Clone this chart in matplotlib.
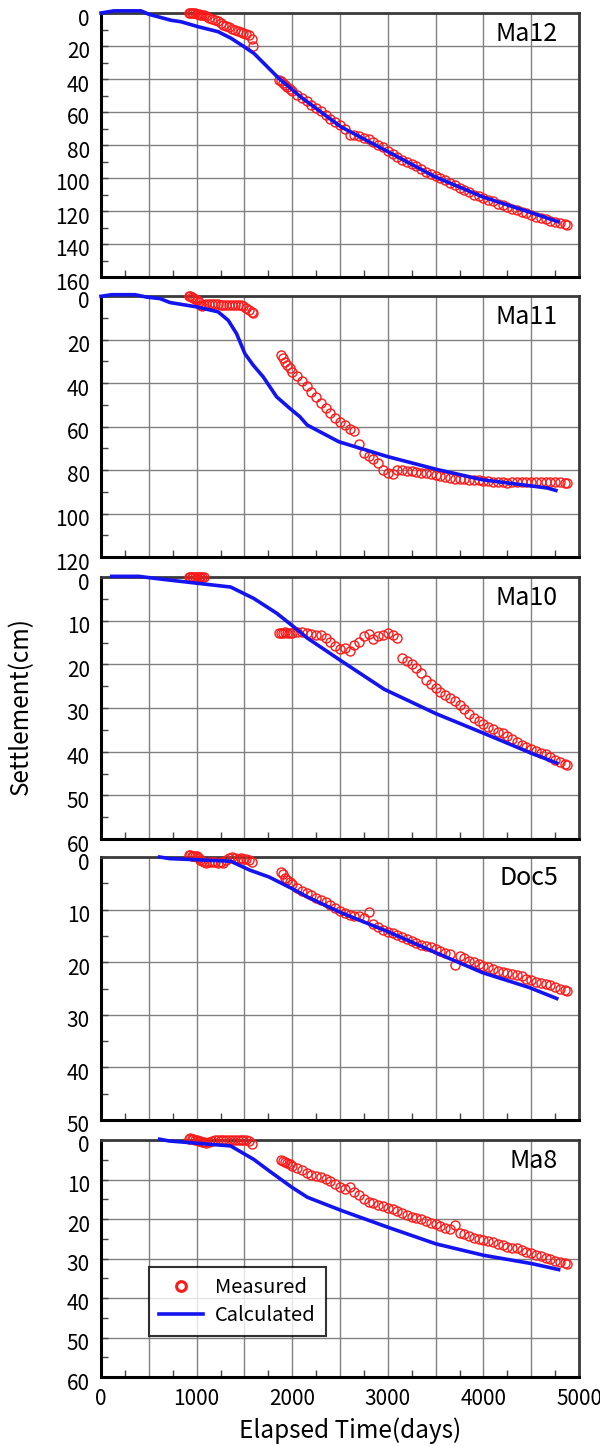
import matplotlib.pyplot as plt
import numpy as np
from matplotlib.ticker import MultipleLocator
from matplotlib.transforms import ScaledTranslation

plt.rcParams['font.family'] = ['Noto Sans CJK JP', 'DejaVu Sans']

nan = np.nan

# measurement dates (days)
days_early = [920, 935, 950, 965, 980, 1000, 1020, 1040, 1060, 1080, 1100, 1130, 1160, 1190,
              1220, 1250, 1280, 1310, 1340, 1370, 1400, 1430, 1460, 1490, 1520, 1550, 1575, 1590]
days_late = [1860, 1880, 1900, 1925, 1950, 1975, 2000, 2050, 2100, 2150, 2200, 2250, 2300, 2350,
             2400, 2450, 2500, 2550, 2600, 2650, 2700, 2750, 2800, 2850, 2900, 2950, 3000, 3050,
             3100, 3150, 3200, 3250, 3300, 3350, 3400, 3450, 3500, 3550, 3600, 3650, 3700, 3750,
             3800, 3850, 3900, 3950, 4000, 4050, 4100, 4150, 4200, 4250, 4300, 4350, 4400, 4450,
             4500, 4550, 4600, 4650, 4700, 4750, 4800, 4850, 4870]

# Ma12
ma12_early = [0, -0.3, 0, 0.3, 0, 0.5, 0.8, 1, 1.2, 1.5, 2, 2.8, 3.6, 4.2, 5, 5.8, 7, 7.6, 8.5,
              9.5, 10.3, 11, 11.5, 12.2, 12.5, 13.5, 16, 20]
ma12_late = [40.5, 41.5, 42.5, 43.5, 45, 46, 47, 49.5, 51.5, 53.5, 56, 57.5, 59.5, 62, 64, 66, 68,
             70, 74, 74, 74.5, 75.5, 76.5, 78, 80, 81.5, 83.5, 85.5, 87.5, 89, 90.5, 91.5, 93,
             94.5, 96.5, 97.5, 99, 100, 101.5, 103, 104.5, 106, 107.5, 108.5, 110, 111, 112,
             113.5, 114, 115.5, 116.5, 117.5, 118.5, 119.5, 120.5, 121.5, 122.5, 123.5, 124, 125,
             126, 126.5, 127.5, 128, 128.5]
ma12_calc_days = [0, 136, 418, 502, 732, 837, 1015, 1224, 1360, 1496, 1600, 1850, 2092, 2510,
                  3000, 3485, 3995, 4500, 4780]
ma12_calc = [0, -1.3, -1.3, 0.8, 4.4, 5.3, 8.3, 11.3, 15.3, 20.4, 24.5, 39, 51, 69, 84, 99,
             111.5, 121, 126.5]

# Ma11
ma11_early = [0, 0.2, 0.5, 0.8, 1.3, 2, 2.8, 4, 4.7, 4, 3.6, 3.5, 3.6, 3.8, 3.8, 4, 4.2, 4.3,
              4.3, 4.3, 4.3, 4.3, 4.3, 4.5, 5.5, 6.5, 7.5, 7.8]
ma11_late = [nan, 27, 28.5, 30.3, 31.8, 33.3, 35, 37, 39, 41.5, 44, 46.5, 49, 51.5, 54, 56, 58,
             59.5, 61, 62, 68, 72, 73.5, 75, 77, 80, 81.5, 82, 79.8, 80, 80.3, 80.5, 81, 81.3,
             81.5, 82, 82.3, 82.7, 83, 83.5, 84, 84.2, 84.3, 84.5, 84.5, 84.8, 85, 85.2, 85.3,
             85.5, 85.7, 85.8, 85.6, 85.5, 85.3, 85.4, 85.5, 85.6, 85.6, 85.6, 85.6, 85.6, 85.6,
             85.8, 86]
ma11_calc_days = [0, 111, 355, 477, 617, 721, 1000, 1226, 1331, 1418, 1505, 1592, 1697, 1836,
                  1976, 2080, 2156, 2487, 2994, 3500, 3990, 4496, 4671, 4758]
ma11_calc = [0.15, -0.6, -0.6, 0.5, 1.2, 3, 5, 7.3, 11.2, 17.3, 26.5, 31.8, 37.2, 46.3, 51.7,
             55.5, 59.3, 67, 73.8, 79.6, 84.5, 87.3, 88.3, 89.4]

# Ma10
ma10_early = [0, 0, 0, 0, 0, 0, 0, 0, 0, 0, nan, nan, nan, nan, nan, nan, nan, nan, nan, nan,
              nan, nan, nan, nan, nan, nan, nan, nan]
ma10_late = [12.8, 12.8, 12.8, 12.7, 12.8, 12.9, 12.8, 12.6, 12.5, 12.8, 13, 13.2, 13.3, 14,
             14.8, 15.8, 16.5, 16.3, 17, 15.5, 14.8, 13.4, 13, 14.2, 13.6, 13.2, 12.8, 13.2, 14,
             18.5, 19.2, 20, 20.8, 22, 23.5, 24.5, 25.5, 26.3, 27, 27.6, 28.5, 29.3, 30.2, 31.3,
             32.4, 33, 33.6, 34.3, 34.9, 35.4, 35.8, 36.3, 37, 37.8, 38.5, 39, 39.4, 39.9, 40.3,
             40.6, 41.3, 41.8, 42.3, 42.8, 43.1]
ma10_calc_days = [112, 393, 634, 955, 1356, 1597, 1838, 2010, 2159, 2512, 2962, 3504, 4005,
                  4507, 4767]
ma10_calc = [-0.15, -0.15, 0.5, 1.3, 2.3, 4.9, 8.3, 11.3, 14, 19.2, 25.7, 31.3, 35.8, 40.4, 42.6]

# Doc5
doc5_early = [-0.3, -0.3, -0.2, -0.2, -0.2, -0.1, 0.2, 0.5, 0.7, 0.9, 1.1, 1.0, 0.9, 1.0, 1.1,
              1.0, 1.1, 0.6, 0.2, 0.0, 0.1, 0.3, 0.2, 0.4, 0.3, 0.6, 1.0, nan]
doc5_late = [nan, 2.8, 3.3, 4.0, 4.4, 4.8, 5.1, 5.9, 6.5, 6.9, 7.3, 7.8, 8.1, 8.6, 9.1, 9.7,
             10.2, 10.7, 11.0, 11.3, 11.2, 11.6, 10.4, 12.8, 13.4, 13.8, 14.2, 14.4, 14.8, 15.2,
             15.5, 15.9, 16.3, 16.7, 17.0, 17.2, 17.5, 17.8, 18.2, 18.4, 20.6, 18.9, 19.2, 19.7,
             20.0, 20.3, 20.7, 20.9, 21.2, 21.6, 21.9, 22.1, 22.2, 22.5, 22.7, 23.1, 23.4, 23.8,
             24.0, 24.2, 24.4, 24.7, 25.0, 25.3, 25.4]
doc5_calc_days = [614, 714, 1356, 1557, 1758, 1998, 2159, 2500, 3002, 3504, 3993, 4478, 4767]
doc5_calc = [0, 0.3, 0.8, 2.5, 3.8, 6, 7.6, 10.5, 14.2, 18.2, 22, 24.8, 26.9]

# Ma8
ma8_early = [-0.3, -0.4, -0.3, -0.2, -0.1, 0, 0.2, 0.3, 0.5, 0.6, 0.7, 0.6, 0.3, 0.1, 0.0, 0.1,
             0.0, 0.0, 0.1, 0.0, 0.0, 0.1, 0.0, 0.0, 0.1, 0.2, 0.9, nan]
ma8_late = [nan, 5.1, 5.3, 5.6, 5.9, 6.2, 6.5, 7.1, 7.6, 8.4, 8.8, 9.2, 9.4, 9.8, 10.5, 11.2,
            11.8, 12.3, 11.9, 13.2, 14.0, 15.0, 15.6, 15.9, 16.4, 16.8, 17.1, 17.5, 18.1, 18.6,
            19.1, 19.5, 19.8, 20.1, 20.5, 20.9, 21.3, 21.7, 22.2, 22.5, 21.4, 23.6, 23.9, 24.4,
            24.8, 25.1, 25.4, 25.5, 25.8, 26.3, 26.7, 27.1, 27.3, 27.4, 27.8, 28.3, 28.7, 29.1,
            29.4, 29.8, 30.2, 30.6, 30.9, 31.2, 31.5]
ma8_calc_days = [614, 714, 1356, 1597, 1758, 1998, 2159, 2520, 3002, 3504, 4005, 4507, 4787]
ma8_calc = [-0.2, 0.25, 1.5, 4.9, 7.8, 12, 14.5, 17.9, 22.1, 26.3, 29.2, 31.3, 32.8]

panels = [
    ('Ma12', 160, 20, ma12_early, ma12_late, ma12_calc_days, ma12_calc),
    ('Ma11', 120, 20, ma11_early, ma11_late, ma11_calc_days, ma11_calc),
    ('Ma10', 60, 10, ma10_early, ma10_late, ma10_calc_days, ma10_calc),
    ('Doc5', 50, 10, doc5_early, doc5_late, doc5_calc_days, doc5_calc),
    ('Ma8', 60, 10, ma8_early, ma8_late, ma8_calc_days, ma8_calc),
]

# panel frames in pixels (top, bottom)
frames = [(13, 277), (296, 557), (577, 839), (857, 1120), (1140, 1377)]
W, H = 600, 1446
x0, x1 = 101, 579

fig = plt.figure(figsize=(W / 100, H / 100), dpi=100)
fig.set_facecolor('white')

for i, ((name, ymax, ystep, early, late, cdays, cvals), (top, bot)) in enumerate(zip(panels, frames)):
    ax = fig.add_axes([x0 / W, 1 - bot / H, (x1 - x0) / W, (bot - top) / H])
    ax.set_xlim(0, 5000)
    ax.set_ylim(ymax, 0)

    ax.xaxis.set_major_locator(MultipleLocator(500))
    ax.xaxis.set_minor_locator(MultipleLocator(250))
    ax.yaxis.set_major_locator(MultipleLocator(ystep))
    ax.yaxis.set_minor_locator(MultipleLocator(ystep / 2))
    ax.grid(True, which='major', color='#808080', linewidth=1.0)
    ax.set_axisbelow(True)

    ax.tick_params(which='both', direction='in', top=False, right=False, labelsize=15, pad=8)
    ax.tick_params(which='both', length=5, width=1, color='#444444')
    ax.tick_params(axis='x', which='major', length=0)

    if i < len(panels) - 1:
        ax.tick_params(labelbottom=False)
    else:
        ax.set_xticks(range(0, 5001, 500))
        ax.set_xticklabels([str(v) if v % 1000 == 0 else '' for v in range(0, 5001, 500)])

    # nudge the "0" label down a little so it clears the panel above
    for t in ax.yaxis.get_major_ticks():
        if abs(t.get_loc()) < 1e-9:
            t.label1.set_transform(t.label1.get_transform() +
                                   ScaledTranslation(0, -4 / 100, fig.dpi_scale_trans))

    for side in ('left', 'bottom'):
        ax.spines[side].set_color('black')
        ax.spines[side].set_linewidth(2.2)
    for side in ('top', 'right'):
        ax.spines[side].set_color('#3a3a3a')
        ax.spines[side].set_linewidth(2.0)

    ax.plot(days_early, early, 'o', ms=6.5, mfc='none', mec='#ff1a1a', mew=1.0,
            clip_on=False, zorder=3, label='Measured')
    ax.plot(days_late, late, 'o', ms=6.5, mfc='none', mec='#ff1a1a', mew=1.0,
            clip_on=False, zorder=3)
    ax.plot(cdays, cvals, '-', color='#1414f0', lw=2.6, clip_on=False, zorder=4,
            label='Calculated')

    ax.text(0.956, 1 - 21 / (bot - top), name, transform=ax.transAxes,
            ha='right', va='center', fontsize=18)

    if i == len(panels) - 1:
        leg = ax.legend(loc='lower left', bbox_to_anchor=(0.1, 0.172), fontsize=14.5,
                        frameon=True, fancybox=False, edgecolor='black', handlelength=2.2,
                        borderpad=0.5, labelspacing=0.35, handletextpad=0.6, borderaxespad=0)
        leg.get_frame().set_linewidth(1.5)
        for h in leg.legend_handles[:1]:
            h.set_markeredgewidth(2.2)
            h.set_markersize(7)

fig.text(0.035, 1 - 706 / H, 'Settlement(cm)', rotation=90, ha='center', va='center',
         fontsize=17.5)
fig.text(350 / W, 1 - 1431 / H, 'Elapsed Time(days)', ha='center', va='center', fontsize=17.5)

plt.savefig('out.png', dpi=100)
